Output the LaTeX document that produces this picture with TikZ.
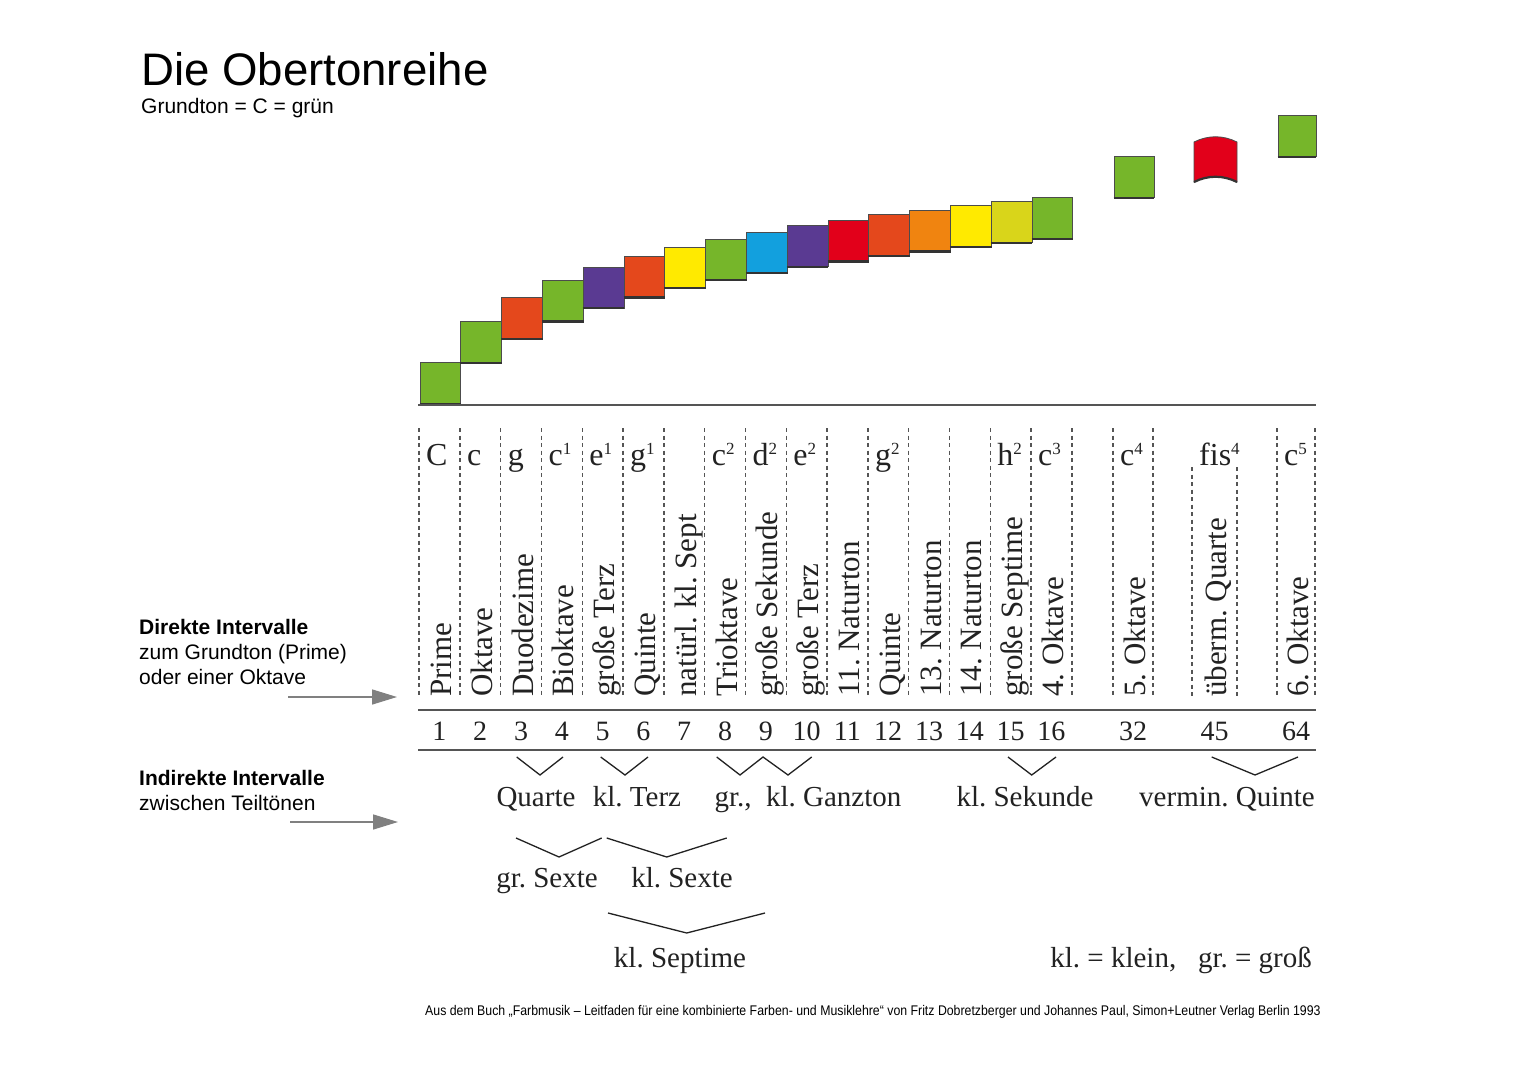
\documentclass[tikz,border=0pt]{standalone}
\usepackage{fontspec}
\setmainfont{Liberation Serif}
\newfontfamily\sansf{Liberation Sans}
\newfontfamily\narrowsans[FakeStretch=0.88]{Liberation Sans}
\usetikzlibrary{arrows.meta}
\definecolor{cgreen}{HTML}{76B62A}
\definecolor{cred}{HTML}{E4481C}
\definecolor{cpurple}{HTML}{5A3A92}
\definecolor{cyellow}{HTML}{FFEA00}
\definecolor{cblue}{HTML}{12A0DE}
\definecolor{cdred}{HTML}{E2001A}
\definecolor{corange}{HTML}{F08410}
\definecolor{cyg}{HTML}{D9D51A}
\definecolor{ink}{HTML}{222222}
\definecolor{rulec}{HTML}{555555}
\newcommand\hsup[1]{\raisebox{0.7ex}{\fontsize{17}{17}\selectfont #1}}
\begin{document}
\frenchspacing
\begin{tikzpicture}[x=1pt,y=-1pt,
  sq/.style={draw=black!70, line width=0.8pt, inner sep=0, minimum height=41pt, anchor=south west},
  notelab/.style={anchor=base west, inner sep=0, text=ink, font=\fontsize{32}{34}\selectfont},
  rotlab/.style={rotate=90, anchor=base west, inner sep=0, text=ink, font=\fontsize{31}{33}\selectfont},
  numlab/.style={anchor=base, inner sep=0, text=ink, font=\fontsize{28}{30}\selectfont},
  ivlab/.style={anchor=base, inner sep=0, text=ink, font=\fontsize{29}{31}\selectfont},
  sidelab/.style={anchor=base west, inner sep=0, text=black, font=\sansf\fontsize{21}{25}\selectfont},
  dashln/.style={draw=rulec, line width=1.4pt, dash pattern=on 4pt off 3.5pt},
  chev/.style={draw=ink, line width=1.3pt},
  arr/.style={draw=gray, line width=1.5pt, -{Triangle[length=25pt,width=15pt,fill=gray]}}]
\useasboundingbox (0,0) rectangle (1520,1075);
\fill[white] (0,0) rectangle (1520,1075);
% title
\node[anchor=base west, inner sep=0, font=\sansf\fontsize{45.6}{50}\selectfont] (title) at (141,86) {Die Obertonreihe};
\node[anchor=base west, inner sep=0, font=\sansf\fontsize{21}{25}\selectfont] (sub) at (141,114) {Grundton = C = grün};
% columns
\foreach \n/\l/\w/\col/\lab/\note in {
  1/419/40.8/cgreen/Prime/C,
  2/459.8/40.8/cgreen/Oktave/c,
  3/500.6/40.8/cred/Duodezime/g,
  4/541.4/40.8/cgreen/Bioktave/{c\hsup{1}},
  5/582.2/40.8/cpurple/große Terz/{e\hsup{1}},
  6/623/40.8/cred/Quinte/{g\hsup{1}},
  7/663.8/40.8/cyellow/natürl. kl. Sept/{},
  8/704.6/40.8/cgreen/Trioktave/{c\hsup{2}},
  9/745.4/40.8/cblue/große Sekunde/{d\hsup{2}},
  10/786.2/40.8/cpurple/große Terz/{e\hsup{2}},
  11/827/40.8/cdred/11. Naturton/{},
  12/867.8/40.8/cred/Quinte/{g\hsup{2}},
  13/908.6/40.8/corange/13. Naturton/{},
  14/949.4/40.8/cyellow/14. Naturton/{},
  15/990.2/40.8/cyg/große Septime/{h\hsup{2}},
  16/1031/40.8/cgreen/4. Oktave/{c\hsup{3}},
  32/1113/40/cgreen/5. Oktave/{c\hsup{4}},
  45/1192/45/cdred/überm. Quarte/{fis\hsup{4}},
  64/1277/38/cgreen/6. Oktave/{c\hsup{5}}}{
  \pgfmathsetmacro\cx{\l+\w/2}
  \pgfmathsetmacro\bt{404-41.2*ln(\n)/ln(2)}
  \node[notelab] (note\n) at (\l+7,465) {\note};
  \node[rotlab] (lab\n) at (\cx+12,697) {\lab};
  \node[numlab] (num\n) at (\cx,740.5) {\n};
  \ifnum\n=45\relax
  \else
    \node[sq, fill=\col, minimum width=\w pt] (sq\n) at (\l+0.5,\bt) {};
    \draw[black!80, line width=2.2pt] (sq\n.south west) -- (sq\n.south east);
  \fi
}
% curved red square (45)
\coordinate (r1) at (1194,182);
\coordinate (r2) at (1194,142);
\coordinate (r3) at (1237,142);
\coordinate (r4) at (1237,182);
\filldraw[fill=cdred, draw=black!70, line width=0.8pt]
  (r1) -- (r2) .. controls (1208,135) and (1223,135) .. (r3) -- (r4)
  .. controls (1223,175) and (1208,175) .. (r1) -- cycle;
\draw[black!80, line width=2.2pt] (r4) .. controls (1223,175) and (1208,175) .. (r1);
% dashed column lines
\foreach \x in {419,459.8,500.6,541.4,582.2,623,663.8,704.6,745.4,786.2,827,867.8,908.6,949.4,990.2,1031,1071.8,1113,1153,1277,1315}
  \draw[dashln] (\x,428) -- (\x,697);
\foreach \x in {1192,1237}
  \draw[dashln] (\x,467) -- (\x,697);
% horizontal rules
\coordinate (b0) at (418,405); \coordinate (b1) at (1316,405);
\draw[rulec, line width=2.4pt] (b0) -- (b1);
\coordinate (t0) at (418,710); \coordinate (t1) at (1316,710);
\draw[rulec, line width=2.4pt] (t0) -- (t1);
\coordinate (u0) at (418,750); \coordinate (u1) at (1316,750);
\draw[rulec, line width=2.4pt] (u0) -- (u1);
% chevrons row 1
\draw[chev] (516.7,757) -- (540,775) -- (563,757);
\draw[chev] (600.7,757) -- (625,775) -- (648,757);
\draw[chev] (716.7,757) -- (740,775) -- (763,757) -- (788,775) -- (811.7,757);
\draw[chev] (1008,757) -- (1031.7,775) -- (1056,757);
\draw[chev] (1211.7,757) -- (1255,775) -- (1298,757);
\node[ivlab] (quarte) at (536,806) {Quarte};
\node[ivlab] (klterz) at (637,806) {kl. Terz};
\node[ivlab] (ganzton) at (808,806) {gr., \ kl. Ganzton};
\node[ivlab] (sekunde) at (1025,806) {kl. Sekunde};
\node[ivlab] (vquinte) at (1227,806) {vermin. Quinte};
% chevrons row 2
\draw[chev] (516,838) -- (559,857) -- (601.7,838);
\draw[chev] (606.7,838) -- (666.7,857) -- (726.7,838);
\node[ivlab] (grsexte) at (547,887) {gr. Sexte};
\node[ivlab] (klsexte) at (682,887) {kl. Sexte};
% chevron row 3
\draw[chev] (608,913) -- (686.7,933) -- (765,913);
\node[ivlab] (klseptime) at (680,967) {kl. Septime};
\node[ivlab, anchor=base east] (legend) at (1312,967) {kl. = klein, \ \ gr. = groß};
% side labels
\node[sidelab, font=\sansf\bfseries\fontsize{21}{25}\selectfont] (d1) at (139,634) {Direkte Intervalle};
\node[sidelab] (d2) at (139,659) {zum Grundton (Prime)};
\node[sidelab] (d3) at (139,684) {oder einer Oktave};
\node[sidelab, font=\sansf\bfseries\fontsize{21}{25}\selectfont] (i1) at (139,785) {Indirekte Intervalle};
\node[sidelab] (i2) at (139,810) {zwischen Teiltönen};
\coordinate (a1s) at (288,697); \coordinate (a1e) at (397,697);
\draw[arr] (a1s) -- (a1e);
\coordinate (a2s) at (290,822); \coordinate (a2e) at (398,822);
\draw[arr] (a2s) -- (a2e);
% footer
\node[anchor=base west, inner sep=0, font=\narrowsans\fontsize{14}{16}\selectfont] (footer) at (425,1015)
  {Aus dem Buch „Farbmusik – Leitfaden für eine kombinierte Farben- und Musiklehre“ von Fritz Dobretzberger und Johannes Paul, Simon+Leutner Verlag Berlin 1993};
\end{tikzpicture}
\end{document}
